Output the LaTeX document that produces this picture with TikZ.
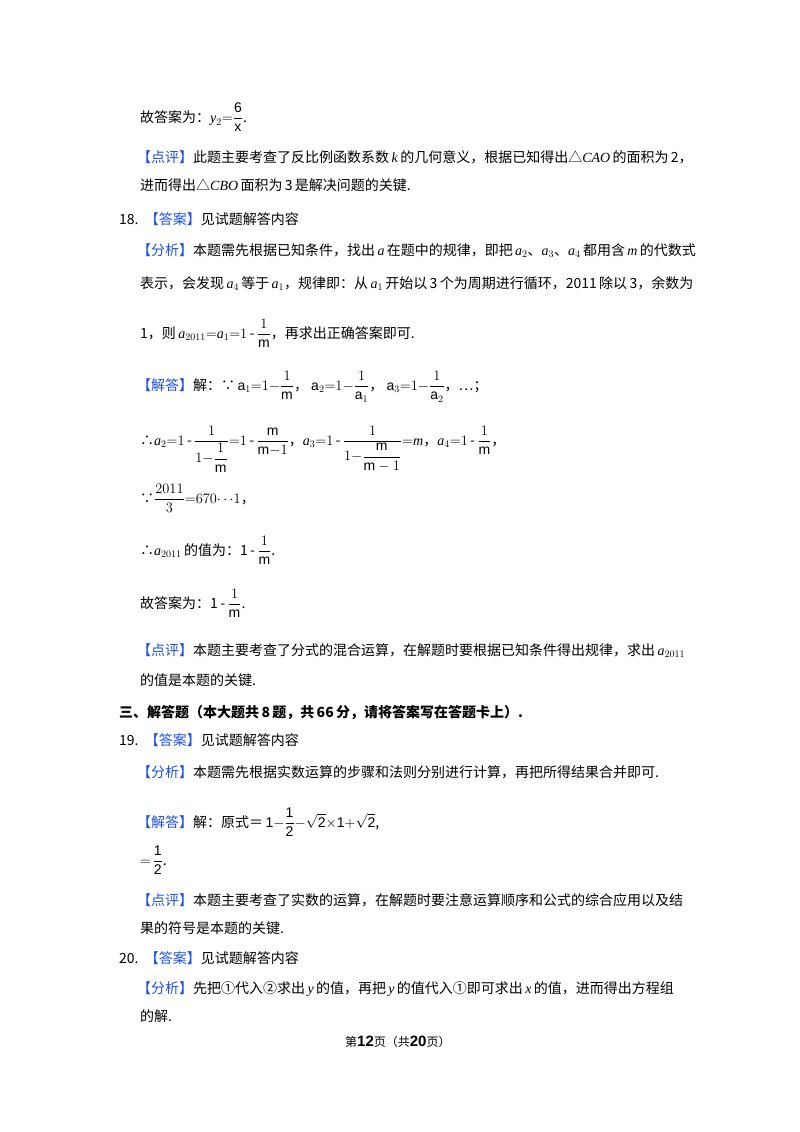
\documentclass[tikz,border=0pt]{standalone}
\usepackage{amsmath}
\usepackage{fontspec}
\setmainfont{Liberation Serif}
\setsansfont{Liberation Sans}
\newfontfamily\cjk{Noto Sans CJK SC}
\usepackage{xcolor}
\definecolor{tagblue}{RGB}{30,80,230}
\newcommand{\tg}[1]{{\color{tagblue}【#1】}}
\newcommand{\mm}{\textsf{m}}
\newcommand{\vi}[1]{\textrm{\itshape #1}}
\begin{document}
\begin{tikzpicture}[x=1pt,y=1pt,
  ln/.style={anchor=base west,inner sep=0pt,font=\fontsize{14}{17}\selectfont\cjk}]
\useasboundingbox[fill=white] (0,0) rectangle (800,-1132);
\node[ln] (l1) at (140,-122) {故答案为：$\vi{y}_2{=}\dfrac{\textsf{6}}{\textsf{x}}$.};
\node[ln] (l2) at (137,-162) {\tg{点评}此题主要考查了反比例函数系数\,\vi{k}\,的几何意义，根据已知得出△\vi{CAO}\,的面积为\,2，};
\node[ln] (l3) at (140,-190) {进而得出△\vi{CBO}\,面积为\,3\,是解决问题的关键.};
\node[ln] (l4) at (119,-224) {18.\ \ \tg{答案}见试题解答内容};
\node[ln] (l5) at (137,-255) {\tg{分析}本题需先根据已知条件，找出\,\vi{a}\,在题中的规律，即把\,$\vi{a}_2$、$\vi{a}_3$、$\vi{a}_4$\,都用含\,\vi{m}\,的代数式};
\node[ln] (l6) at (140,-288) {表示，会发现\,$\vi{a}_4$\,等于\,$\vi{a}_1$，规律即：从\,$\vi{a}_1$\,开始以\,3\,个为周期进行循环，2011\,除以\,3，余数为};
\node[ln] (l7) at (140,-338) {1，则\,$\vi{a}_{2011}{=}\vi{a}_1{=}1$\,-\,$\dfrac{1}{\mm}$，再求出正确答案即可.};
\node[ln] (l8) at (137,-390) {\tg{解答}解：∵\,$\mathsf{a}_1{=}1{-}\dfrac{1}{\mm}$，\ $\mathsf{a}_2{=}1{-}\dfrac{1}{\mathsf{a}_1}$，\ $\mathsf{a}_3{=}1{-}\dfrac{1}{\mathsf{a}_2}$，⋯；};
\node[ln] (l9) at (140,-445) {∴$\vi{a}_2{=}1$\,-\,$\dfrac{1}{1{-}\dfrac{1}{\mm}}{=}1$\,-\,$\dfrac{\mm}{\mm{-}1}$，$\vi{a}_3{=}1$\,-\,$\dfrac{1}{1{-}\dfrac{\mm}{\mm-1}}{=}\vi{m}$，$\vi{a}_4{=}1$\,-\,$\dfrac{1}{\mm}$，};
\node[ln] (l10) at (140,-503) {∵$\dfrac{2011}{3}{=}670{\cdots}1$，};
\node[ln] (l11) at (140,-555) {∴$\vi{a}_{2011}$\,的值为：1\,-\,$\dfrac{1}{\mm}$.};
\node[ln] (l12) at (140,-608) {故答案为：1\,-\,$\dfrac{1}{\mm}$.};
\node[ln] (l13) at (137,-655) {\tg{点评}本题主要考查了分式的混合运算，在解题时要根据已知条件得出规律，求出\,$\vi{a}_{2011}$};
\node[ln] (l14) at (140,-685) {的值是本题的关键.};
\node[ln,font=\fontsize{14}{17}\selectfont\cjk\bfseries] (l15) at (119,-717) {三、解答题（本大题共\,8\,题，共\,66\,分，请将答案写在答题卡上）.};
\node[ln] (l16) at (119,-745) {19.\ \ \tg{答案}见试题解答内容};
\node[ln] (l17) at (137,-777) {\tg{分析}本题需先根据实数运算的步骤和法则分别进行计算，再把所得结果合并即可.};
\node[ln] (l18) at (137,-827) {\tg{解答}解：原式＝\,$\mathsf{1{-}\dfrac{1}{2}{-}\sqrt{2}{\times}1{+}\sqrt{2}}$,};
\node[ln] (l19) at (140,-865) {$=\!\dfrac{\mathsf{1}}{\mathsf{2}}$.};
\node[ln] (l20) at (137,-905) {\tg{点评}本题主要考查了实数的运算，在解题时要注意运算顺序和公式的综合应用以及结};
\node[ln] (l21) at (140,-933) {果的符号是本题的关键.};
\node[ln] (l22) at (119,-963) {20.\ \ \tg{答案}见试题解答内容};
\node[ln] (l23) at (137,-993) {\tg{分析}先把①代入②求出\,\vi{y}\,的值，再把\,\vi{y}\,的值代入①即可求出\,\vi{x}\,的值，进而得出方程组};
\node[ln] (l24) at (140,-1021) {的解.};
\node[ln,font=\fontsize{12}{14}\selectfont\cjk] (ft) at (345,-1046) {第\textbf{\fontsize{15}{15}\selectfont\sffamily 12}页（共\textbf{\fontsize{15}{15}\selectfont\sffamily 20}页）};
\end{tikzpicture}
\end{document}
